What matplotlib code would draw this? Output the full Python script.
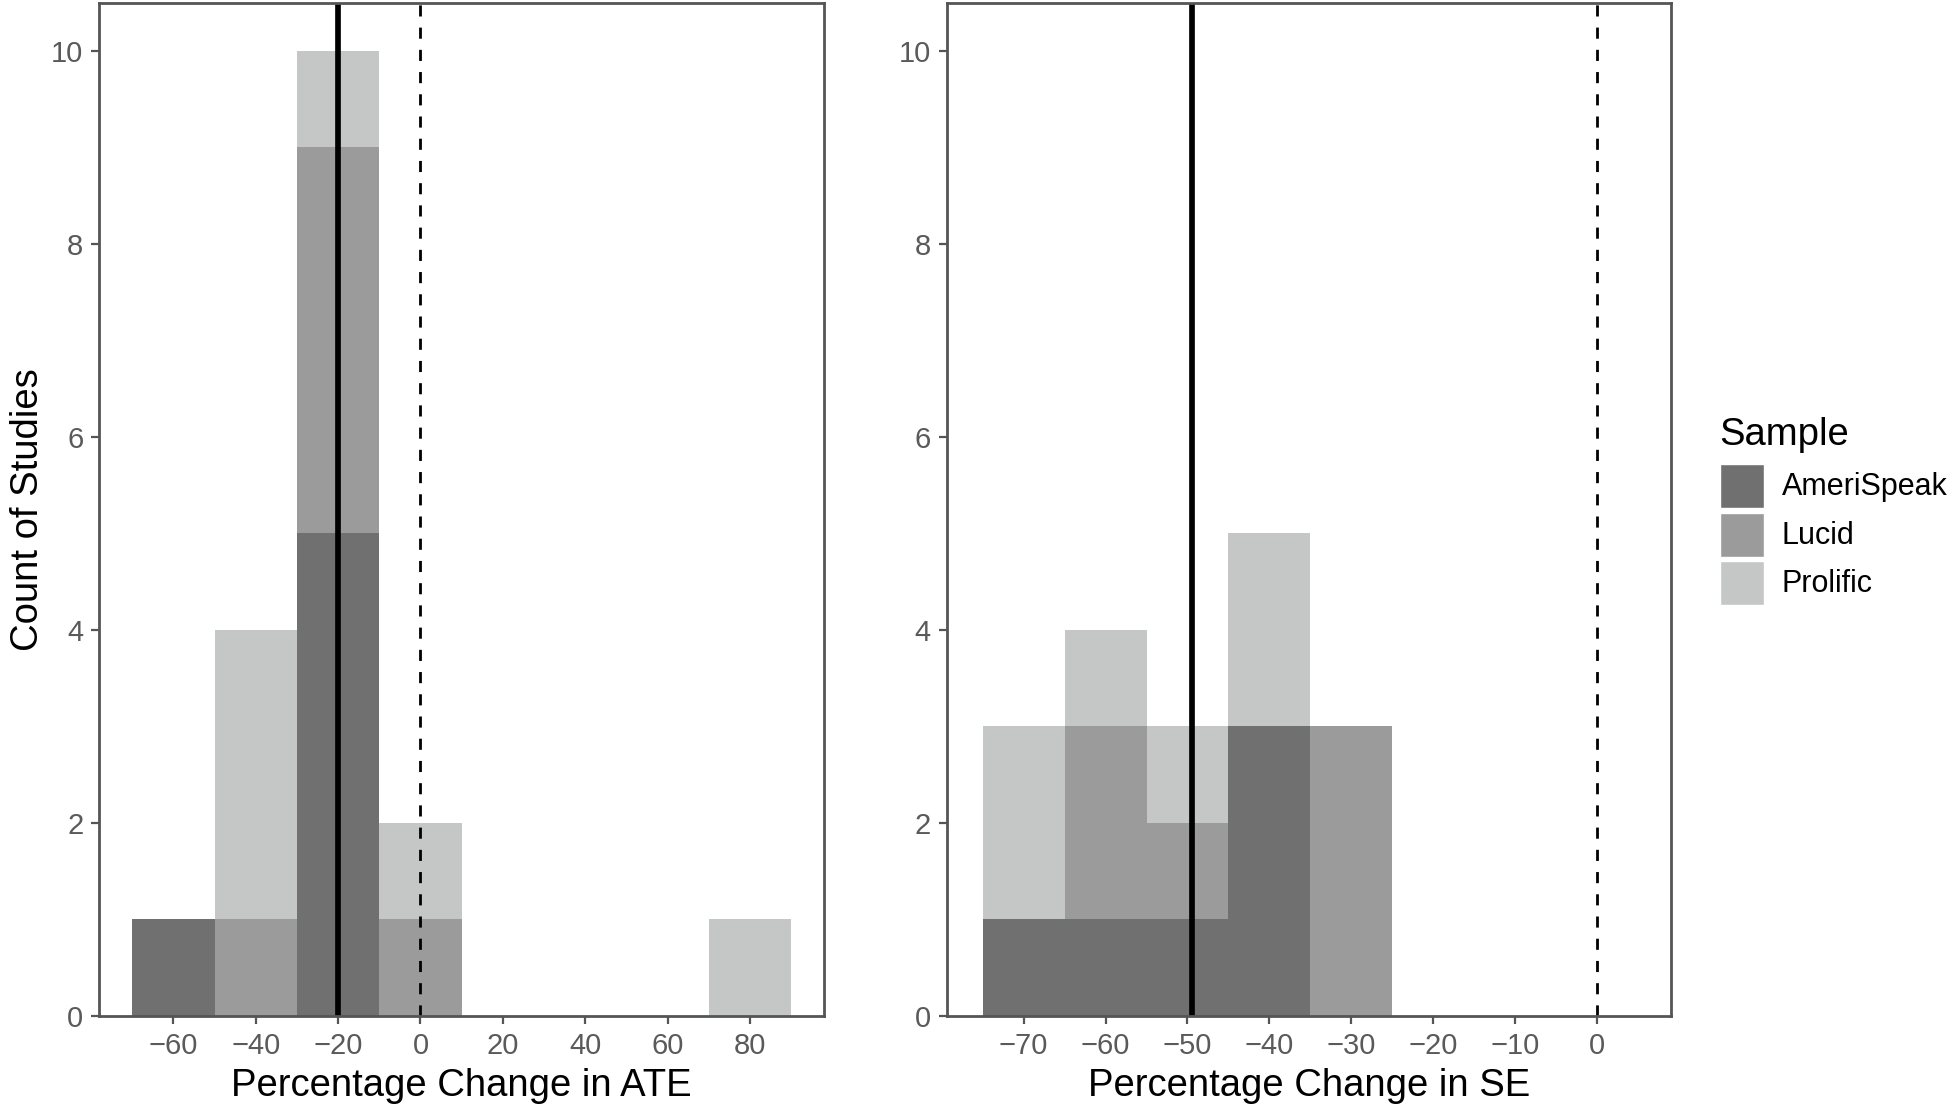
import matplotlib
matplotlib.use("Agg")
import matplotlib.pyplot as plt
from matplotlib.patches import Rectangle
import numpy as np

plt.rcParams['font.family'] = ['Liberation Sans', 'DejaVu Sans']

samples = ["AmeriSpeak", "Lucid", "Prolific"]
colors = ["#707070", "#9b9b9b", "#c5c6c6"]

# Panel 1: Percentage change in ATE (bin width 20)
ate_bin_left = [-70, -50, -30, -10, 10, 30, 50, 70]
ate_bin_width = 20
ate_counts = {
    "AmeriSpeak": [1, 0, 5, 0, 0, 0, 0, 0],
    "Lucid":      [0, 1, 4, 1, 0, 0, 0, 0],
    "Prolific":   [0, 3, 1, 1, 0, 0, 0, 1],
}
ate_mean = -20
ate_xticks = [-60, -40, -20, 0, 20, 40, 60, 80]

# Panel 2: Percentage change in SE (bin width 10)
se_bin_left = [-75, -65, -55, -45, -35]
se_bin_width = 10
se_counts = {
    "AmeriSpeak": [1, 1, 1, 3, 0],
    "Lucid":      [0, 2, 1, 0, 3],
    "Prolific":   [2, 1, 1, 2, 0],
}
se_mean = -49.5
se_xticks = [-70, -60, -50, -40, -30, -20, -10, 0]

yticks = [0, 2, 4, 6, 8, 10]

W, H = 1950, 1114
fig = plt.figure(figsize=(W / 100, H / 100), dpi=100)
ax1 = fig.add_axes([99.3 / W, 1 - 1015.7 / H, 724.7 / W, 1013 / H])
ax2 = fig.add_axes([946.7 / W, 1 - 1015.7 / H, 724 / W, 1013 / H])

frame_col = "#555555"
tick_col = "#5a5a5a"


def draw(ax, lefts, width, counts, mean, xticks, xlim, xlabel):
    bottom = np.zeros(len(lefts))
    for s, c in zip(samples, colors):
        vals = np.array(counts[s], dtype=float)
        ax.bar(lefts, vals, width=width, bottom=bottom, align="edge",
               color=c, edgecolor="none", linewidth=0, zorder=2, label=s)
        bottom += vals
    ax.axvline(mean, color="black", lw=4.1, zorder=3)
    ax.axvline(0, color="black", lw=2.0, linestyle=(0, (4, 4)), zorder=3)
    ax.set_xlim(*xlim)
    ax.set_ylim(0, 10.5)
    ax.set_xticks(xticks)
    ax.set_yticks(yticks)
    for sp in ax.spines.values():
        sp.set_color(frame_col)
        sp.set_linewidth(2.0)
        sp.set_zorder(4)
    ax.tick_params(axis="both", length=5.5, width=1.6, color=frame_col,
                   labelsize=21, labelcolor=tick_col, pad=6)
    ax.set_xlabel(xlabel, fontsize=27.5, color="black", labelpad=6)


draw(ax1, ate_bin_left, ate_bin_width, ate_counts, ate_mean, ate_xticks,
     (-78, 98), "Percentage Change in ATE")
draw(ax2, se_bin_left, se_bin_width, se_counts, se_mean, se_xticks,
     (-79.4, 9.0), "Percentage Change in SE")
ax1.set_ylabel("Count of Studies", fontsize=27.5, color="black", labelpad=4)

# Legend (drawn in figure pixel coordinates)
key_x0, key_w, key_h, key_pitch, key_y0 = 1719.5, 44.5, 44.0, 48.5, 464.0
fig.text(key_x0 / W, 1 - 445 / H, "Sample", fontsize=27.5, color="black",
         ha="left", va="baseline")
for i, (s, c) in enumerate(zip(samples, colors)):
    top = key_y0 + i * key_pitch
    fig.add_artist(Rectangle((key_x0 / W, 1 - (top + key_h) / H),
                             key_w / W, key_h / H, transform=fig.transFigure,
                             facecolor=c, edgecolor="white", linewidth=1.0))
    fig.text(1781.7 / W, 1 - (top + key_h / 2 + 1) / H, s, fontsize=22,
             color="black", ha="left", va="center")

fig.savefig("out.png", dpi=100)
